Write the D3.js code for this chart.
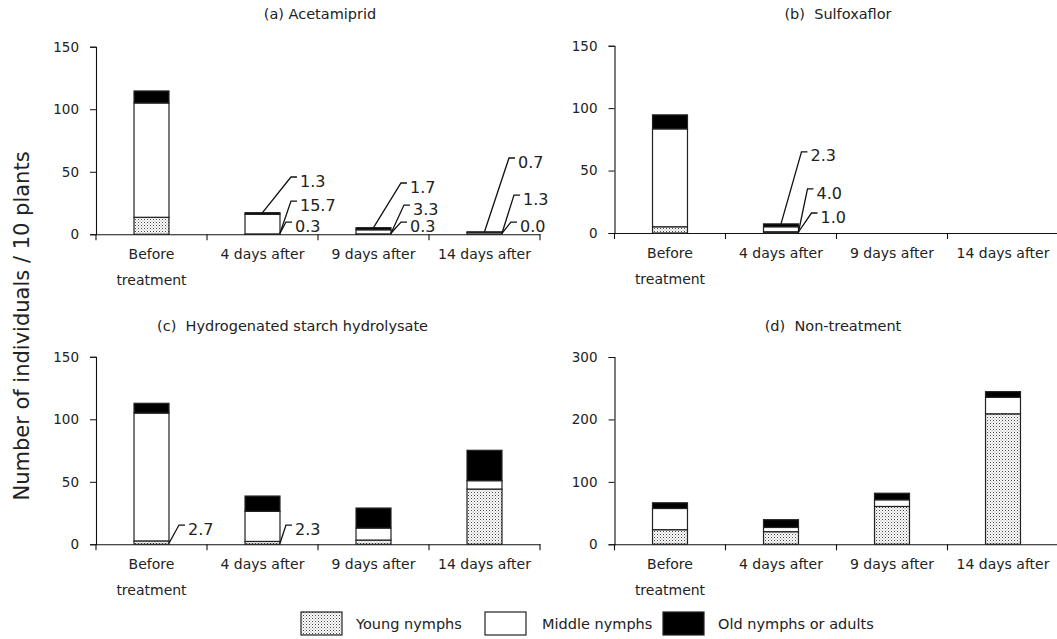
<!DOCTYPE html>
<html><head><meta charset="utf-8">
<script src="https://cdn.jsdelivr.net/npm/d3@7/dist/d3.min.js"></script>
<style>
body{margin:0;background:#fff;}
text{font-family:"DejaVu Sans",Verdana,sans-serif;fill:#222;}
</style></head>
<body><svg id="chart" width="1057" height="639"></svg>
<script>
// ---- data ----
const categories = ["Before treatment", "4 days after", "9 days after", "14 days after"];
const seriesNames = ["Young nymphs", "Middle nymphs", "Old nymphs or adults"];
const panelTitles = ["(a) Acetamiprid", "(b)  Sulfoxaflor", "(c)  Hydrogenated starch hydrolysate", "(d)  Non-treatment"];

const youngA = [13.6, 0.3, 0.3, 0.0];
const middleA = [91.4, 15.7, 3.3, 1.3];
const oldA = [9.6, 1.3, 1.7, 0.7];

const youngB = [5.0, 1.0, 0, 0];
const middleB = [78.4, 4.0, 0, 0];
const oldB = [11.2, 2.3, 0, 0];

const youngC = [2.7, 2.3, 3.4, 44.2];
const middleC = [102.3, 24.1, 9.6, 6.7];
const oldC = [7.8, 12.2, 16.0, 24.3];

const youngD = [23.4, 20.2, 60.6, 209.0];
const middleD = [34.0, 6.8, 10.7, 26.5];
const oldD = [9.1, 12.4, 10.5, 9.0];

const ticksABC = [0, 50, 100, 150];
const ticksD = [0, 100, 200, 300];

// annotations: panel, category index, series (0 young,1 middle,2 old), text, kink value, kink dx (px from bar right)
const annotations = [
  {p:0, c:1, s:2, t:"1.3", kv:45.8, dx:11},
  {p:0, c:1, s:1, t:"15.7", kv:26.6, dx:11},
  {p:0, c:1, s:0, t:"0.3", kv:9.8, dx:6},
  {p:0, c:2, s:2, t:"1.7", kv:41, dx:10},
  {p:0, c:2, s:1, t:"3.3", kv:23.4, dx:13},
  {p:0, c:2, s:0, t:"0.3", kv:9.8, dx:10},
  {p:0, c:3, s:2, t:"0.7", kv:61, dx:7},
  {p:0, c:3, s:1, t:"1.3", kv:31.4, dx:12},
  {p:0, c:3, s:0, t:"0.0", kv:9.8, dx:9},
  {p:1, c:1, s:2, t:"2.3", kv:65, dx:3},
  {p:1, c:1, s:1, t:"4.0", kv:35.3, dx:9},
  {p:1, c:1, s:0, t:"1.0", kv:16, dx:13},
  {p:2, c:0, s:0, t:"2.7", kv:15.4, dx:10},
  {p:2, c:1, s:0, t:"2.3", kv:15.4, dx:6}
];

const panels = [
  {young:youngA, middle:middleA, old:oldA, max:150, ticks:ticksABC, x0:96, y0:234.3, yTop:46.7, tx:320, ty:19, anchor:"middle"},
  {young:youngB, middle:middleB, old:oldB, max:150, ticks:ticksABC, x0:614.5, y0:233, yTop:45.7, tx:838, ty:19, anchor:"middle"},
  {young:youngC, middle:middleC, old:oldC, max:150, ticks:ticksABC, x0:96, y0:544.3, yTop:356.8, tx:157, ty:331, anchor:"start"},
  {young:youngD, middle:middleD, old:oldD, max:300, ticks:ticksD, x0:614.5, y0:544.3, yTop:357, tx:833, ty:331, anchor:"middle"}
];

const svg = d3.select("#chart");
const defs = svg.append("defs");
const pat = defs.append("pattern").attr("id","dots").attr("patternUnits","userSpaceOnUse")
  .attr("width",3).attr("height",3);
pat.append("rect").attr("width",3).attr("height",3).attr("fill","#fff");
pat.append("rect").attr("x",0).attr("y",0).attr("width",1).attr("height",1).attr("fill","#444");
pat.append("rect").attr("x",1.5).attr("y",1.5).attr("width",1).attr("height",1).attr("fill","#888");

const fills = ["url(#dots)", "#fff", "#000"];
const bandW = 444;

panels.forEach((P, pi) => {
  const g = svg.append("g");
  const x = d3.scaleBand().domain(categories).range([P.x0, P.x0 + bandW]).paddingInner(0).paddingOuter(0);
  const y = d3.scaleLinear().domain([0, P.max]).range([P.y0, P.yTop]);
  const bw = x.bandwidth() * 0.315;

  // y axis
  const ya = g.append("g").attr("transform", `translate(${P.x0},0)`)
    .call(d3.axisLeft(y).tickValues(P.ticks).tickSize(6).tickPadding(11).tickFormat(d3.format("d")));
  ya.select(".domain").attr("stroke","#111").attr("stroke-width",1.1);
  ya.selectAll(".tick line").attr("stroke","#111");
  ya.selectAll("text").style("font-size","13.5px").attr("fill","#222");

  // x axis
  const xa = g.append("g").attr("transform", `translate(0,${P.y0})`)
    .call(d3.axisBottom(x).tickSize(0).tickFormat(""));
  xa.select(".domain").attr("stroke","#111").attr("stroke-width",1.1);
  xa.selectAll(".tick").remove();
  const bounds = categories.map(c => x(c)).concat([P.x0 + bandW]);
  g.selectAll(".xt").data(bounds).enter().append("line")
    .attr("x1", d => d).attr("x2", d => d).attr("y1", P.y0).attr("y2", P.y0 + 6)
    .attr("stroke","#111").attr("stroke-width",1.1);

  // x labels
  categories.forEach(c => {
    const words = c === "Before treatment" ? ["Before", "treatment"] : [c];
    words.forEach((w, i) => {
      g.append("text").attr("x", x(c) + x.bandwidth()/2).attr("y", P.y0 + 25 + i*26)
        .attr("text-anchor","middle").style("font-size","14px").text(w);
    });
  });

  // stacked bars
  const stackData = categories.map((c, i) => ({cat:c, v:[P.young[i], P.middle[i], P.old[i]]}));
  stackData.forEach(d => {
    let base = 0;
    d.v.forEach((val, si) => {
      if (val > 0) {
        g.append("rect")
          .attr("x", x(d.cat) + (x.bandwidth() - bw)/2)
          .attr("y", y(base + val))
          .attr("width", bw)
          .attr("height", y(base) - y(base + val))
          .attr("fill", fills[si]).attr("stroke","#222").attr("stroke-width",1.2);
      }
      base += val;
    });
  });

  // annotations
  annotations.filter(a => a.p === pi).forEach(a => {
    const i = a.c;
    const cat = categories[i];
    const left = x(cat) + (x.bandwidth() - bw)/2;
    const right = left + bw;
    const total = P.young[i] + P.middle[i] + P.old[i];
    let sx, sy;
    if (a.s === 2) { sx = left + bw/2; sy = y(total); }
    else { sx = right; sy = y(0) - 1; }
    const kx = right + a.dx, ky = y(a.kv);
    g.append("path").attr("d", `M${sx},${sy}L${kx},${ky}L${kx+6},${ky}`)
      .attr("fill","none").attr("stroke","#111").attr("stroke-width",1.3);
    g.append("text").attr("x", kx + 9).attr("y", ky + 4).attr("dy","0.35em")
      .style("font-size","16px").text(a.t);
  });

  // title
  g.append("text").attr("x", P.tx).attr("y", P.ty).attr("text-anchor", P.anchor)
    .style("font-size","14.5px").style("white-space","pre").attr("xml:space","preserve").text(panelTitles[pi]);
});

// y axis title
svg.append("text").attr("transform","translate(29,326) rotate(-90)").attr("text-anchor","middle")
  .style("font-size","21px").text("Number of individuals / 10 plants");

// legend
const legX = [301, 485, 663];
const legTX = [356, 542, 718];
seriesNames.forEach((n, i) => {
  svg.append("rect").attr("x", legX[i]).attr("y", 612).attr("width", 41).attr("height", 23)
    .attr("fill", fills[i]).attr("stroke","#222").attr("stroke-width",1.2);
  svg.append("text").attr("x", legTX[i]).attr("y", 623.5).attr("dy","0.35em")
    .style("font-size","14.5px").text(n);
});
</script></body></html>
